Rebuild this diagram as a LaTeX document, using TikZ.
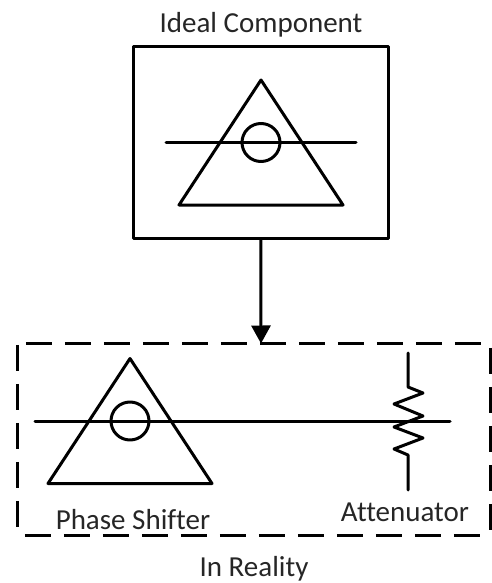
\documentclass[tikz,border=0pt]{standalone}
\usepackage{fontspec}
\setmainfont[Ligatures=NoCommon]{Carlito}
\usetikzlibrary{arrows.meta}
\tikzset{
    wire/.style={line width=3pt,line join=round,line cap=round},
    solidbox/.style={draw,wire,inner sep=0pt,minimum width=254.5pt,minimum height=191pt},
    dashbox/.style={inner sep=0pt,minimum width=472pt,minimum height=191.5pt},
    dashside/.style={line width=3pt,dash pattern=on 26pt off 13pt,dash phase=#1},
    caption/.style={font=\fontsize{29}{34}\selectfont,inner sep=0pt,text=black!85}
}
\newcommand\ShifterSymbol[2]{%
    \draw[wire] (#1,#2-62.5) -- (#1+82,#2+62.5) -- (#1-82,#2+62.5) -- cycle;
    \draw[wire] (#1,#2) circle (19);
}
\begin{document}
\begin{tikzpicture}[x=1pt,y=-1pt]
    \useasboundingbox (0,0) rectangle (492,583);
    \node[caption] (IdealLabel) at (261,25) {Ideal Component};
    \node[solidbox] (IdealBox) at (260.75,142.5) {};
    \ShifterSymbol{261}{142.5}
    \coordinate (IdealIn) at (166,142.5);
    \coordinate (IdealOut) at (356,142.5);
    \draw[wire] (IdealIn) -- (IdealOut);

    \node[dashbox] (RealBox) at (254,439.25) {};
    \foreach \from/\to/\shift in {north west/north east/31pt,north west/south west/37.5pt,
        north east/south east/34.5pt,south west/south east/32pt}
        \draw[dashside=\shift] (RealBox.\from) -- (RealBox.\to);
    \draw[wire,-{Triangle[length=18pt,width=19pt]}] (IdealBox.south) -- (261,343.5) coordinate (ArrowEnd);
    \ShifterSymbol{130}{421}
    \coordinate (RealIn) at (35,421);
    \coordinate (RealOut) at (450,421);
    \draw[wire] (RealIn) -- (RealOut);
    % attenuator
    \draw[wire] (408,353) -- (408,387) -- (423,393) -- (394,404) -- (423,416) -- (394,427)
        -- (423,438) -- (394,449) -- (408,455) -- (408,490);

    \node[caption] (ShifterLabel) at (133,520) {Phase Shifter};
    \node[caption] (AttenLabel) at (405,512) {Attenuator};
    \node[caption] (RealityLabel) at (254,569) {In Reality};
\end{tikzpicture}
\end{document}
